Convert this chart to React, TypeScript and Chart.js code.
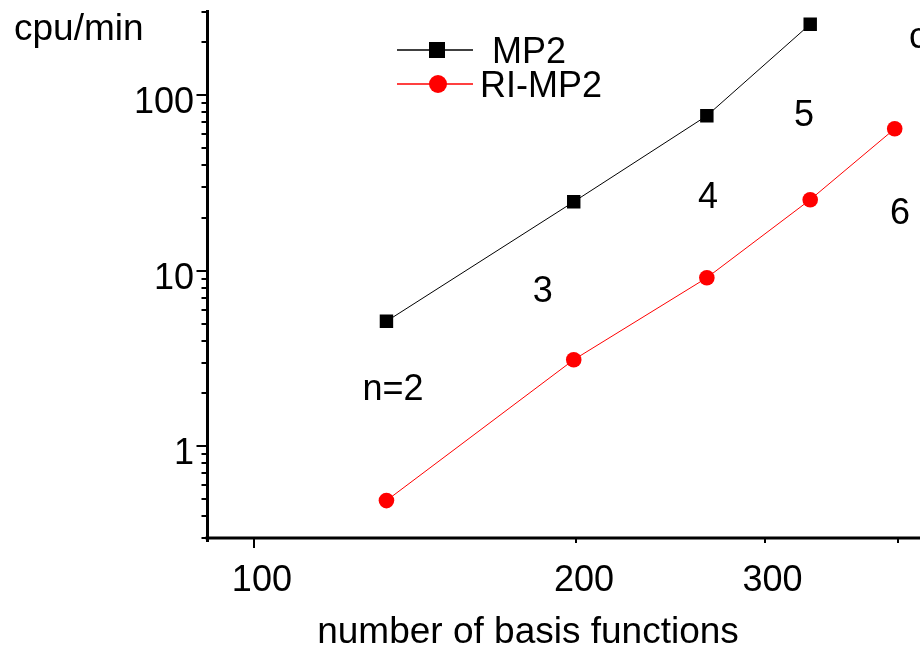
import React, { useEffect, useRef } from "react";
import { Chart, registerables } from "chart.js";

Chart.register(...registerables);

// Basis-set size for each cluster size n = 2..6
const basisFunctions = [133, 199, 265, 331, 397];
// CPU time in minutes
const mp2Minutes = [5.15, 24.7, 76.4, 254];
const riMp2Minutes = [0.49, 3.11, 9.12, 25.4, 64.4];

const xTickValues = [100, 200, 300, 400];
const xTickLabels = ["100", "200", "300", ""];
const yTickValues = [1, 10, 100];
const yTickLabels = ["1", "10", "100"];

// Cluster-size labels, anchored in data coordinates (text centre)
const sizeLabels = ["n=2", "3", "4", "5", "6", "c"];
const sizeLabelX = [134.9, 186.2, 265.7, 326.6, 401.6, 417.4];
const sizeLabelY = [2.18, 7.9, 27.1, 79.5, 21.97, 221];

const FONT = '36px "Liberation Sans", Arial, sans-serif';
const TITLE_FONT = '37px "Liberation Sans", Arial, sans-serif';

const paperAxes = {
  id: "paperAxes",
  afterDraw(chart: any) {
    const { ctx, chartArea, scales } = chart;
    const xs = scales.x;
    const ys = scales.y;
    const ax = chartArea.left + 0.5;
    const ay = chartArea.bottom;
    ctx.save();
    ctx.strokeStyle = "#000";
    ctx.fillStyle = "#000";

    // axis lines
    ctx.lineWidth = 3;
    ctx.beginPath();
    ctx.moveTo(ax, chartArea.top - 1.5);
    ctx.lineTo(ax, ay + 4);
    ctx.moveTo(ax - 2, ay);
    ctx.lineTo(chart.width, ay);
    ctx.stroke();

    // y ticks: minor at every k*10^e, major at decades
    ctx.lineWidth = 2;
    ctx.beginPath();
    for (let e = -1; e <= 2; e++) {
      for (let k = 1; k <= 9; k++) {
        const v = k * Math.pow(10, e);
        if (v < ys.min - 1e-9 || v > ys.max + 1e-9) continue;
        const py = Math.round(ys.getPixelForValue(v));
        const len = k === 1 ? 11 : 6;
        ctx.moveTo(ax - len, py);
        ctx.lineTo(ax, py);
      }
    }
    // x ticks
    xTickValues.forEach((v) => {
      const px = Math.round(xs.getPixelForValue(v));
      const len = v === 100 ? 10 : 5;
      ctx.moveTo(px, ay);
      ctx.lineTo(px, ay + len);
    });
    ctx.stroke();

    ctx.font = FONT;
    ctx.textBaseline = "alphabetic";

    // y tick labels
    ctx.textAlign = "right";
    yTickValues.forEach((v, i) => {
      const py = ys.getPixelForValue(v);
      ctx.fillText(yTickLabels[i], 194, py + 18);
    });

    // x tick labels
    ctx.textAlign = "center";
    xTickValues.forEach((v, i) => {
      if (!xTickLabels[i]) return;
      const px = xs.getPixelForValue(v);
      ctx.fillText(xTickLabels[i], px + 8, 591);
    });

    // axis titles
    ctx.font = TITLE_FONT;
    ctx.textAlign = "center";
    ctx.fillText("number of basis functions", 528, 643);
    ctx.textAlign = "left";
    ctx.fillText("cpu/min", 14, 40);
    ctx.font = FONT;

    // cluster-size labels
    ctx.textAlign = "center";
    sizeLabels.forEach((t, i) => {
      const px = xs.getPixelForValue(sizeLabelX[i]);
      const py = ys.getPixelForValue(sizeLabelY[i]);
      ctx.fillText(t, px, py + 13);
    });

    // legend
    const ds = chart.data.datasets;
    const rows = [
      { y: 50, textX: 492 },
      { y: 84, textX: 480 },
    ];
    rows.forEach((row, i) => {
      const d = ds[i];
      ctx.strokeStyle = d.borderColor;
      ctx.fillStyle = d.backgroundColor;
      ctx.lineWidth = 1.5;
      ctx.beginPath();
      ctx.moveTo(397, row.y);
      ctx.lineTo(473, row.y);
      ctx.stroke();
      if (d.pointStyle === "rect") {
        ctx.fillRect(437 - 8, row.y - 8, 16, 16);
      } else {
        ctx.beginPath();
        ctx.arc(438, row.y, 9, 0, Math.PI * 2);
        ctx.fill();
      }
      ctx.fillStyle = "#000";
      ctx.textAlign = "left";
      ctx.fillText(d.label, row.textX, row.y + 13);
    });

    ctx.restore();
  },
};

export default function App() {
  const canvasRef = useRef<HTMLCanvasElement>(null);

  useEffect(() => {
    const canvas = canvasRef.current;
    if (!canvas) return;
    const chart = new Chart(canvas, {
      type: "line",
      data: {
        datasets: [
          {
            label: "MP2",
            data: mp2Minutes.map((v, i) => ({ x: basisFunctions[i], y: v })),
            borderColor: "#000000",
            backgroundColor: "#000000",
            borderWidth: 1,
            pointStyle: "rect",
            pointRadius: 9.5,
            pointBorderWidth: 0,
            tension: 0,
          },
          {
            label: "RI-MP2",
            data: riMp2Minutes.map((v, i) => ({ x: basisFunctions[i], y: v })),
            borderColor: "#ff0000",
            backgroundColor: "#ff0000",
            borderWidth: 1,
            pointStyle: "circle",
            pointRadius: 7.8,
            pointBorderWidth: 0,
            tension: 0,
          },
        ],
      },
      options: {
        animation: false,
        responsive: false,
        devicePixelRatio: 1,
        layout: {
          autoPadding: false,
          padding: { left: 207, right: 0, top: 11.5, bottom: 112 },
        },
        plugins: { legend: { display: false }, tooltip: { enabled: false } },
        scales: {
          x: {
            type: "logarithmic",
            min: 90.4,
            max: 419.2,
            display: false,
          },
          y: {
            type: "logarithmic",
            min: 0.3,
            max: 300,
            display: false,
          },
        },
      },
      plugins: [paperAxes],
    });
    return () => chart.destroy();
  }, []);

  return (
    <div
      style={{
        position: "fixed",
        left: 0,
        top: 0,
        width: 920,
        height: 650,
        overflow: "hidden",
        background: "#ffffff",
      }}
    >
      <canvas ref={canvasRef} width={920} height={650} style={{ display: "block" }} />
    </div>
  );
}
